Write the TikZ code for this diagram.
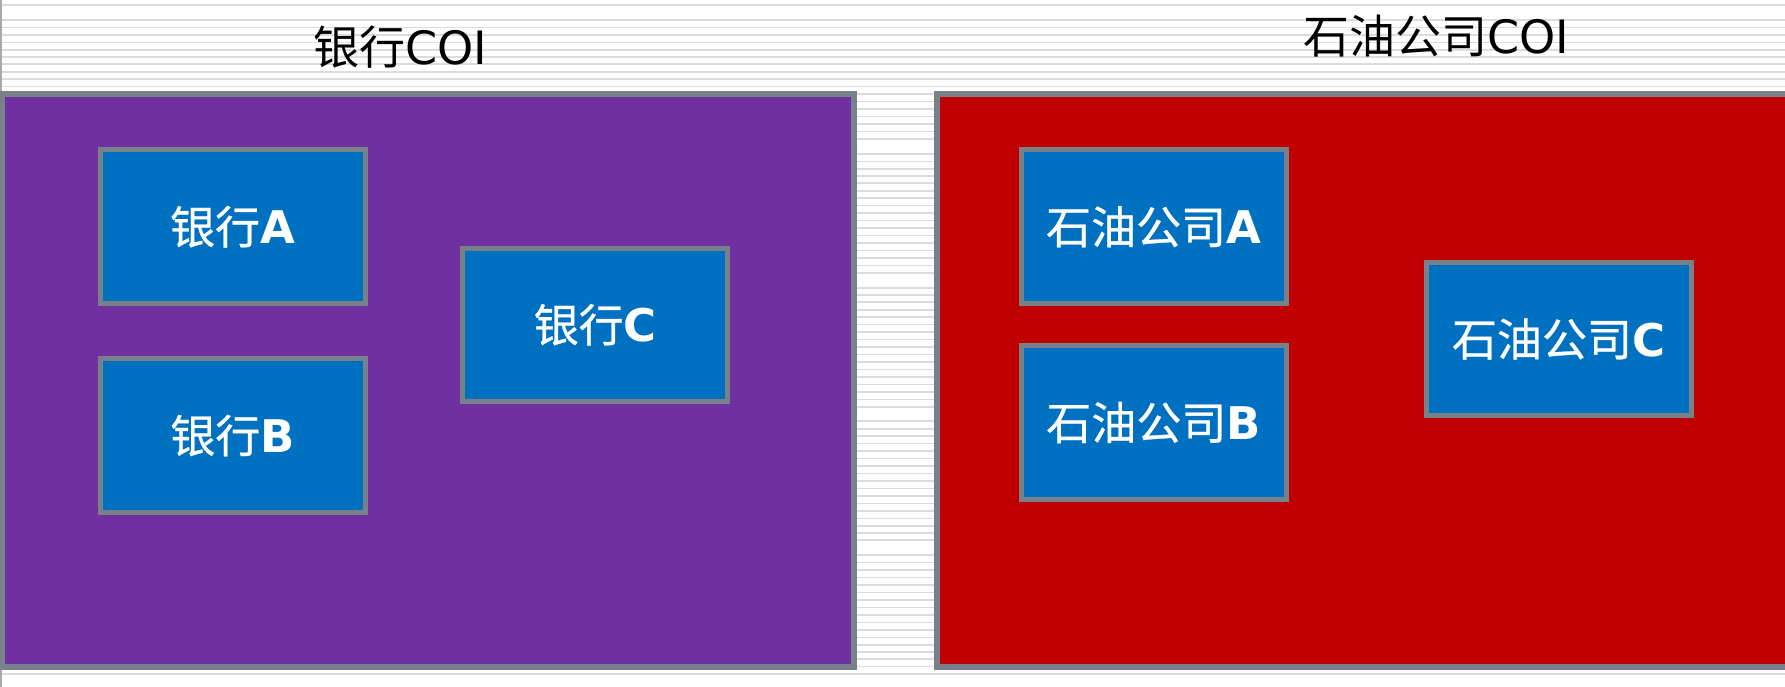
\documentclass[tikz,border=0pt]{standalone}
\usepackage{fontspec}
\newfontfamily\cjk{Noto Sans CJK SC}
\newfontfamily\cjkb[FakeBold=0.6]{Noto Sans CJK SC}
\newfontfamily\dvs{DejaVu Sans}
\definecolor{coipurple}{HTML}{7030A0}
\definecolor{coired}{HTML}{C00000}
\definecolor{boxblue}{HTML}{0070C0}
\definecolor{bordergray}{HTML}{788089}
\definecolor{rulegray}{HTML}{DCDCDC}
\definecolor{edgegray}{HTML}{A8A8A8}
\tikzset{
  coibox/.style={draw=bordergray, line width=6pt, anchor=north west, inner sep=0pt, outer sep=0pt},
  firmbox/.style={draw=bordergray, line width=5pt, fill=boxblue, text=white, inner sep=0pt,
    minimum width=265pt, minimum height=153.5pt, font=\fontsize{45}{52}\selectfont},
  coititle/.style={anchor=base, text=black, inner sep=0pt, font=\fontsize{46}{54}\selectfont},
  thickrule/.style={draw=rulegray, line width=2pt},
  thinrule/.style={draw=rulegray, line width=1.2pt}
}
\newcommand{\firmlabel}[2]{{\cjkb #1}{\dvs\bfseries #2}}
\begin{document}
\begin{tikzpicture}[x=1pt,y=-1pt]
\useasboundingbox (0,0) rectangle (1785,687);
\fill[white] (0,0) rectangle (1785,687);
\foreach \k in {0,...,90}{
  \pgfmathtruncatemacro\m{mod(\k,18)}
  \pgfmathsetmacro\yy{5+7.437*\k}
  \ifnum\m=1\relax\else
    \ifodd\k
      \draw[thinrule] (0,\yy) -- (1785,\yy);
    \else
      \draw[thickrule] (0,\yy) -- (1785,\yy);
    \fi
  \fi
}
\draw[edgegray, line width=2pt] (1,0) -- (1,687);
% COI containers
\node[coibox, fill=coipurple, minimum width=852pt, minimum height=573pt] (bankcoi) at (2,94) {};
\node[coibox, fill=coired, minimum width=900pt, minimum height=573pt] (oilcoi) at (937,94) {};
% titles
\node[coititle] (banktitle) at (400,65) {{\cjk 银行}{\dvs COI}};
\node[coititle] (oiltitle) at (1436,54) {{\cjk 石油公司}{\dvs COI}};
% firms
\node[firmbox] (bankA) at (232.5,226.75) {\firmlabel{银行}{A}};
\node[firmbox] (bankB) at (232.5,435.5) {\firmlabel{银行}{B}};
\node[firmbox] (bankC) at (595.25,324.75) {\firmlabel{银行}{C}};
\node[firmbox] (oilA) at (1153.5,226.75) {\firmlabel{石油公司}{A}};
\node[firmbox] (oilB) at (1153.5,422.5) {\firmlabel{石油公司}{B}};
\node[firmbox] (oilC) at (1558.5,339) {\firmlabel{石油公司}{C}};
\end{tikzpicture}
\end{document}
